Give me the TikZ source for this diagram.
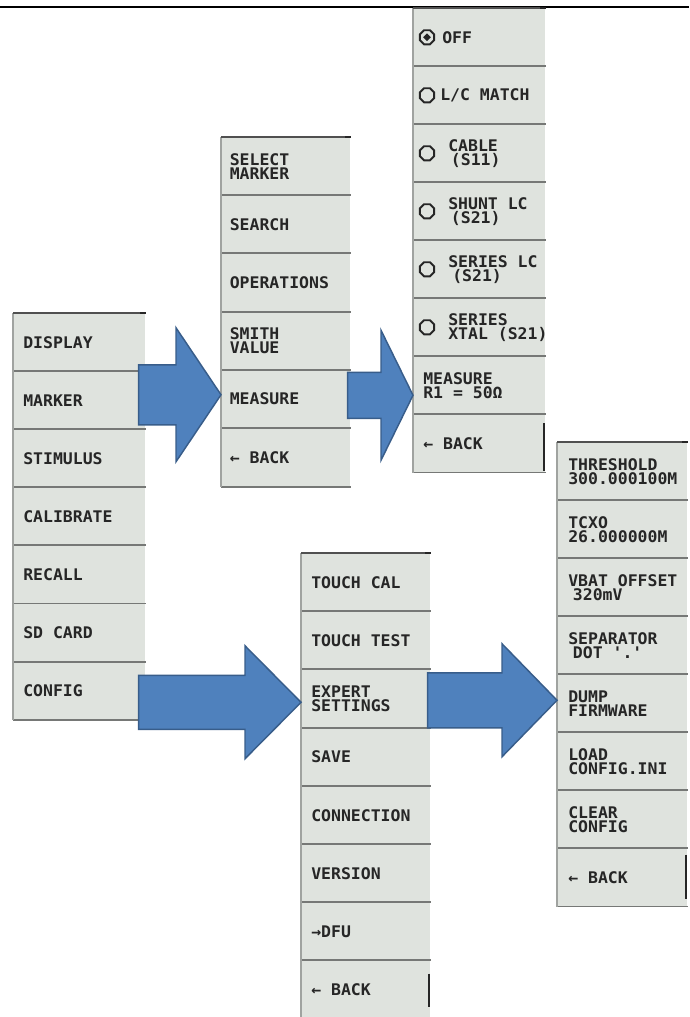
\documentclass[tikz,border=0pt]{standalone}
\usepackage{fontspec}
\usetikzlibrary{shapes.geometric,calc}
\newfontfamily\menufont{DejaVu Sans Mono}[FakeStretch=1.03]
\definecolor{cellbg}{RGB}{223,227,222}
\definecolor{divc}{RGB}{118,120,118}
\definecolor{edgec}{RGB}{160,163,160}
\definecolor{topc}{RGB}{80,80,80}
\definecolor{txtc}{RGB}{38,38,38}
\definecolor{arrfill}{RGB}{79,129,189}
\definecolor{arredge}{RGB}{56,93,138}
\tikzset{
  cell/.style={rectangle, fill=cellbg, draw=none, anchor=north west, inner sep=0pt},
  celltext/.style={anchor=west, inner sep=0pt, align=left, text=txtc,
    font=\menufont\bfseries\fontsize{12}{10.6}\selectfont},
  divline/.style={draw=divc, line width=1.4pt},
  leftline/.style={draw=edgec, line width=0.8pt},
  topline/.style={draw=topc, line width=1.4pt},
  radio/.style={regular polygon, regular polygon sides=8, draw=txtc, line width=1.4pt,
    inner sep=0pt, minimum size=11.5pt},
  radiodot/.style={diamond, fill=txtc, inner sep=0pt, minimum size=6pt},
  bigarrow/.style={fill=arrfill, draw=arredge, line width=1.1pt, line join=miter},
  barmark/.style={draw=black!85, line width=1.5pt},
}
% #1 prefix, #2 x, #3 top, #4 width, #5 row height, #6 rows
\newcommand{\mkmenu}[6]{%
  \foreach \i in {1,...,#6} {
    \node[cell, minimum width=#4*0.75pt, minimum height=#5*0.75pt] (#1\i) at (#2,{#3+(\i-1)*#5}) {};
  }
  \foreach \i in {2,...,#6} {
    \draw[divline] (#1\i.north west) -- (#1\i.north east);
  }
  \draw[divline] (#1#6.south west) -- (#1#6.south east);
  \draw[leftline] (#11.north west) -- (#1#6.south west);
  \draw[topline] (#11.north west) -- (#11.north east);
  \draw[barmark] ([xshift=-4pt]#11.north east) -- (#11.north east);
}
% #1 prefix, #2 inset px, #3 labels
\newcommand{\mktext}[3]{%
  \foreach \lab [count=\i] in {#3} {
    \node[celltext] (#1t\i) at ([xshift=#2*0.75pt]#1\i.west) {\lab};
  }
}
% #1 from, #2 to, #3 start inset, #4 tip yshift (px, up), #5 shaft half, #6 head half, #7 head length
\newcommand{\blockarr}[7]{%
  \path[bigarrow] let \p1=(#1.east), \p2=(#2.west) in
    ([xshift={-#3*0.75pt}, yshift={(#4+#5)*0.75pt}]\x1,\y2)
    -- ([xshift={-#7*0.75pt}, yshift={(#4+#5)*0.75pt}]\x2,\y2)
    -- ([xshift={-#7*0.75pt}, yshift={(#4+#6)*0.75pt}]\x2,\y2)
    -- ([yshift={#4*0.75pt}]\x2,\y2)
    -- ([xshift={-#7*0.75pt}, yshift={(#4-#6)*0.75pt}]\x2,\y2)
    -- ([xshift={-#7*0.75pt}, yshift={(#4-#5)*0.75pt}]\x2,\y2)
    -- ([xshift={-#3*0.75pt}, yshift={(#4-#5)*0.75pt}]\x1,\y2)
    -- cycle;
}
\begin{document}
\begin{tikzpicture}[x=0.75pt,y=-0.75pt]
\useasboundingbox (0,0) rectangle (689,1017);
\fill[white] (0,0) rectangle (689,1017);
\draw[line width=2.2pt] (0,7) -- (689,7);

% left main menu
\mkmenu{L}{13}{313}{132}{58.1}{7}
\mktext{L}{10}{DISPLAY,MARKER,STIMULUS,CALIBRATE,RECALL,SD CARD,CONFIG}

% marker menu
\mkmenu{M}{221}{137}{129}{58.2}{6}
\mktext{M}{8.5}{{SELECT\\MARKER},SEARCH,OPERATIONS,{SMITH\\VALUE},MEASURE,← BACK}

% measure menu
\mkmenu{T}{413}{8}{132}{58}{8}
\begin{scope}
  \clip (T1.north west) rectangle ([xshift=-0.5pt]T8.south east);
  \foreach \ins/\lab [count=\i] in {29/OFF, 27/{L/C MATCH}, 35/{CABLE\\\hspace*{2pt}(S11)},
      35/{SHUNT LC\\\hspace*{2pt}(S21)}, 35/{SERIES LC\\\hspace*{3pt}(S21)}, 35/{SERIES\\XTAL (S21)},
      10/{MEASURE\\R1 = 50Ω}, 10/{← BACK}} {
    \node[celltext] (Tt\i) at ([xshift=\ins*0.75pt]T\i.west) {\lab};
  }
\end{scope}
\foreach \i in {1,...,6} {
  \node[radio] (Tr\i) at ([xshift=14*0.75pt]T\i.west) {};
}
\node[radiodot] (Toff) at (Tr1) {};
\draw[barmark] ([xshift=-1.5pt, yshift=-7pt]T8.north east) -- ([xshift=-1.5pt, yshift=1pt]T8.south east);

% config menu
\mkmenu{B}{301}{553}{129}{58.2}{8}
\mktext{B}{10}{TOUCH CAL,TOUCH TEST,{EXPERT\\SETTINGS},SAVE,CONNECTION,VERSION,→DFU,← BACK}
\draw[barmark] ([xshift=-1.5pt, yshift=-10pt]B8.north east) -- ([xshift=-1.5pt, yshift=-35pt]B8.north east);

% expert settings menu
\mkmenu{R}{557}{442}{130}{58}{8}
\mktext{R}{11}{{THRESHOLD\\300.000100M},{TCXO\\26.000000M},{VBAT OFFSET\\\hspace*{3.5pt}320mV},
  {SEPARATOR\\\hspace*{3.5pt}DOT '.'},{DUMP\\FIRMWARE},{LOAD\\CONFIG.INI},{CLEAR\\CONFIG},← BACK}
\draw[barmark] ([xshift=-1pt, yshift=-5pt]R8.north east) -- ([xshift=-1pt, yshift=-38pt]R8.north east);

% block arrows
\blockarr{L2}{M5}{7}{4.4}{30}{67}{45}
\blockarr{M5}{T7}{3}{-10}{23}{65}{32}
\blockarr{L7}{B3}{7}{-3.5}{27}{56.5}{56}
\blockarr{B3}{R5}{3}{3}{27.5}{56.5}{55}
\end{tikzpicture}
\end{document}
